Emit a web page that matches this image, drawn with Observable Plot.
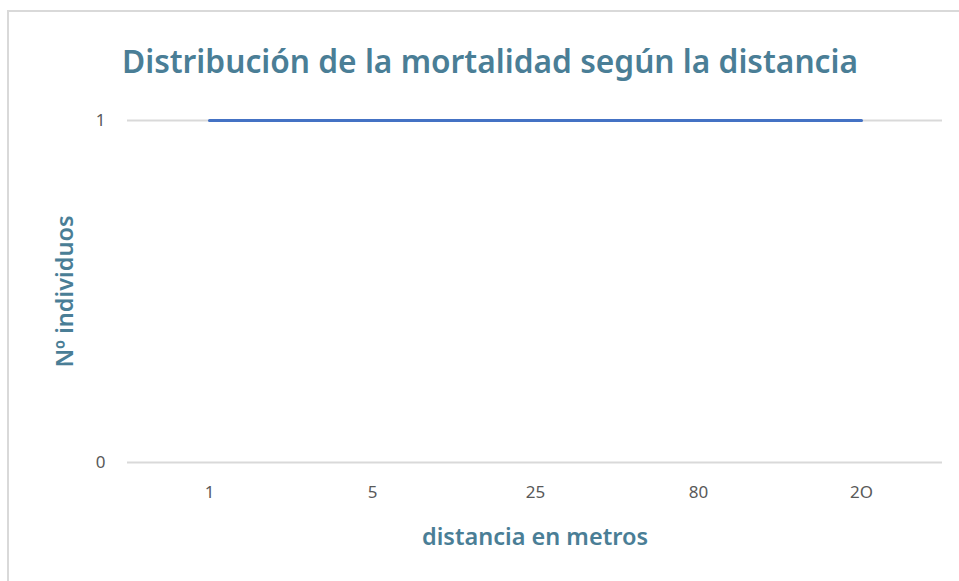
<!DOCTYPE html>
<html>
<head>
<meta charset="utf-8">
<script src="https://cdn.jsdelivr.net/npm/d3@7"></script>
<script src="https://cdn.jsdelivr.net/npm/@observablehq/plot@0.6"></script>
<style>
  html, body { margin: 0; padding: 0; background: #fff; }
  #wrap { position: relative; width: 959px; height: 581px; overflow: hidden; font-family: "Noto Sans", "Open Sans", sans-serif; }
  #border { position: absolute; left: 7px; top: 10px; width: 2000px; height: 2000px; border-top: 2px solid #d9d9d9; border-left: 2px solid #d9d9d9; }
  #title { position: absolute; left: 0; top: 39px; width: 980px; text-align: center; font-size: 31.7px; font-weight: 600; color: #4a7e96; line-height: 44px; }
  #chart { position: absolute; left: 0; top: 90px; }
</style>
</head>
<body>
<div id="wrap">
  <div id="border"></div>
  <div id="title">Distribución de la mortalidad según la distancia</div>
  <div id="chart"></div>
</div>
<script>
const categories = ["1", "5", "25", "80", "2O"];
const values = [1, 1, 1, 1, 1];
const yTicks = [0, 1];

const data = categories.map((c, i) => ({distancia: c, n: values[i]}));

const labelColor = "#4a7e96";
const tickColor = "#595959";

const plot = Plot.plot({
  width: 959,
  height: 491,
  marginLeft: 127,
  marginRight: 17,
  marginTop: 30,
  marginBottom: 119,
  style: {fontFamily: "'Noto Sans', 'Open Sans', sans-serif", background: "transparent", overflow: "visible"},
  x: {type: "point", domain: categories, padding: 0.5},
  y: {domain: [0, 1]},
  marks: [
    Plot.ruleY(yTicks, {stroke: "#d9d9d9", strokeWidth: 2}),
    Plot.axisY({ticks: yTicks, tickFormat: "d", tickSize: 0, tickPadding: 22, fontSize: 17, color: tickColor, label: null}),
    Plot.axisY({ticks: [], tickSize: 0, label: "Nº individuos", labelAnchor: "center", labelArrow: "none", labelOffset: 71, fontSize: 23.5, fontWeight: 600, color: labelColor}),
    Plot.axisX({tickSize: 0, tickPadding: 23, fontSize: 17, color: tickColor, label: null}),
    Plot.axisX({ticks: [], tickSize: 0, label: "distancia en metros", labelAnchor: "center", labelArrow: "none", labelOffset: 82, fontSize: 23.5, fontWeight: 600, color: labelColor}),
    Plot.line(data, {x: "distancia", y: "n", stroke: "#4472C4", strokeWidth: 3})
  ]
});
document.getElementById("chart").appendChild(plot);
</script>
</body>
</html>
